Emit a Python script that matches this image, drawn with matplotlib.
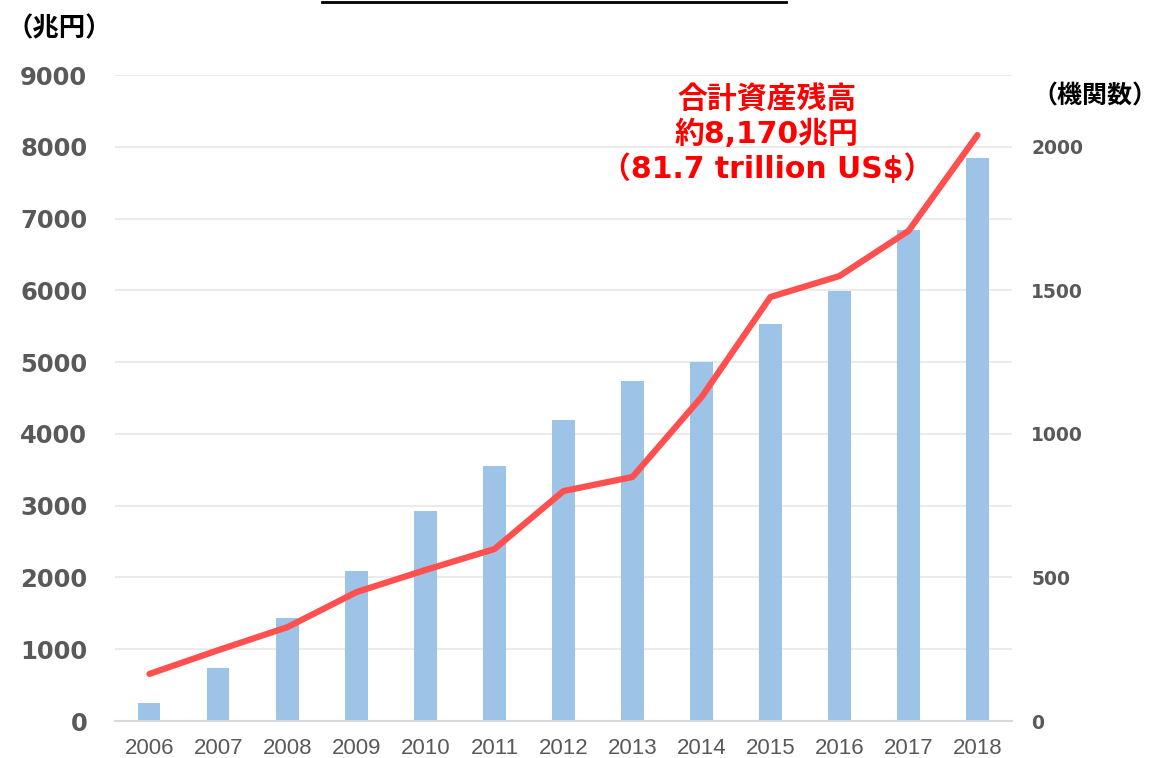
import numpy as np
import matplotlib.pyplot as plt
from matplotlib.lines import Line2D

plt.rcParams['font.family'] = ['DejaVu Sans', 'Noto Sans CJK JP']

years = ['2006', '2007', '2008', '2009', '2010', '2011', '2012',
         '2013', '2014', '2015', '2016', '2017', '2018']
# total assets (trillion yen), bars on left axis
assets = [250, 740, 1440, 2090, 2930, 3550, 4190, 4740, 5000, 5530, 5990, 6840, 7840]
# number of signatory institutions, line on right axis
institutions = [164, 247, 327, 449, 526, 599, 801, 850, 1128, 1477, 1550, 1707, 2041]

left_ticks = [0, 1000, 2000, 3000, 4000, 5000, 6000, 7000, 8000, 9000]
right_ticks = [0, 500, 1000, 1500, 2000]

bar_color = '#9DC3E6'
line_color = '#FF5050'
tick_grey = '#595959'

fig = plt.figure(figsize=(11.6, 7.58), dpi=100)
ax = fig.add_axes([0.0991, 0.0488, 0.7733, 0.8522])
x = np.arange(len(years))

ax.bar(x, assets, width=0.32, color=bar_color, zorder=2)
ax.set_xlim(-0.5, len(years) - 0.5)
ax.set_ylim(0, 9000)
ax.set_yticks(left_ticks)
ax.set_yticklabels([str(v) for v in left_ticks], fontsize=17.5, fontweight='bold', color=tick_grey)
ax.set_xticks(x)
ax.set_xticklabels(years, fontsize=16, color=tick_grey, family='Liberation Sans')
ax.tick_params(axis='y', length=0, pad=20)
ax.tick_params(axis='x', length=0, pad=12)
ax.grid(axis='y', color='#EBEBEB', linewidth=1.5, zorder=0)
ax.set_axisbelow(True)
for s in ['top', 'right', 'left']:
    ax.spines[s].set_visible(False)
ax.spines['bottom'].set_color('#D9D9D9')
ax.spines['bottom'].set_linewidth(1.5)

ax2 = ax.twinx()
ax2.plot(x, institutions, color=line_color, linewidth=4.5, solid_capstyle='round', zorder=3)
ax2.set_ylim(0, 2250)
ax2.set_yticks(right_ticks)
ax2.set_yticklabels([str(v) for v in right_ticks], fontsize=13.5, fontweight='bold', color=tick_grey)
ax2.tick_params(axis='y', length=0, pad=14)
for s in ax2.spines.values():
    s.set_visible(False)

fig.text(0.006, 0.962, '（兆円）', fontsize=19, fontweight='bold', color='black',
         family=['Noto Sans CJK JP'], ha='left', va='center')
fig.text(0.998, 0.873, '（機関数）', fontsize=18, fontweight='bold', color='black',
         family=['Noto Sans CJK JP'], ha='right', va='center')

fig.text(0.661, 0.822, '合計資産残高\n約8,170兆円\n（81.7 trillion US$）',
         fontsize=21.5, fontweight='bold', color='#FF0000', ha='center', va='center',
         linespacing=1.2, family=['DejaVu Sans', 'Noto Sans CJK JP'])

# underline of the cut-off heading at the very top
fig.add_artist(Line2D([0.278, 0.678], [0.997, 0.997], color='black', linewidth=2))

fig.savefig('out.png', dpi=100)
